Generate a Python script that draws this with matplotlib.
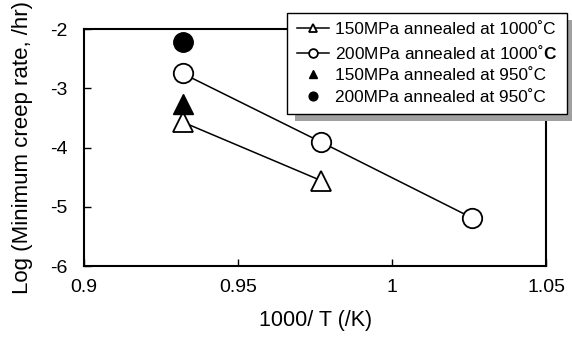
import matplotlib
matplotlib.use("Agg")
import matplotlib.pyplot as plt

plt.rcParams['font.family'] = ['Liberation Sans', 'DejaVu Sans']
plt.rcParams['axes.unicode_minus'] = False
plt.rcParams['mathtext.fontset'] = 'custom'
plt.rcParams['mathtext.bf'] = 'Liberation Sans:bold'

# data
x_1000 = [0.932, 0.977]
y_150_1000 = [-3.57, -4.56]
x_200 = [0.932, 0.977, 1.026]
y_200_1000 = [-2.75, -3.91, -5.19]
x_950 = [0.932]
y_150_950 = [-3.27]
y_200_950 = [-2.22]

labels = ['150MPa annealed at 1000˚C', '200MPa annealed at 1000˚$\\mathbf{C}$',
          '150MPa annealed at 950˚C', '200MPa annealed at 950˚C']

fig = plt.figure(figsize=(5.72, 3.38), dpi=100)
ax = fig.add_axes([0.147, 0.213, 0.808, 0.701])

ax.plot(x_1000, y_150_1000, color='black', lw=1.1, marker='^', ms=14,
        mfc='white', mec='black', mew=1.3, label=labels[0])
ax.plot(x_200, y_200_1000, color='black', lw=1.1, marker='o', ms=14,
        mfc='white', mec='black', mew=1.3, label=labels[1])
ax.plot(x_950, y_150_950, ls='none', marker='^', ms=14,
        mfc='black', mec='black', label=labels[2])
ax.plot(x_950, y_200_950, ls='none', marker='o', ms=14,
        mfc='black', mec='black', label=labels[3])

ax.set_xlim(0.9, 1.05)
ax.set_ylim(-6, -2)
ax.set_xticks([0.9, 0.95, 1.0, 1.05])
ax.set_xticklabels(['0.9', '0.95', '1', '1.05'])
ax.set_yticks([-6, -5, -4, -3, -2])
ax.tick_params(direction='in', length=5, width=1, labelsize=14)
ax.tick_params(axis='x', pad=9)
ax.tick_params(axis='y', pad=12)
for s in ax.spines.values():
    s.set_linewidth(1.5)

ax.set_xlabel('1000/ T (/K)', fontsize=15.5, va='top')
ax.xaxis.set_label_coords(0.5, -0.185)
ax.set_ylabel('Log (Minimum creep rate, /hr)', fontsize=16)
ax.yaxis.set_label_coords(-0.11, 0.5)

leg = ax.legend(loc='upper left', bbox_to_anchor=(0.502, 0.962),
                bbox_transform=fig.transFigure, fancybox=False,
                shadow={'ox': 6, 'oy': -5, 'facecolor': '#a0a0a0',
                        'edgecolor': 'none', 'alpha': 1},
                edgecolor='black', fontsize=12.4, markerscale=0.45,
                handlelength=1.9, handletextpad=0.35, borderpad=0.55,
                borderaxespad=0, labelspacing=0.37, framealpha=1)
leg.get_frame().set_linewidth(1.0)

fig.savefig('out.png', dpi=100)
